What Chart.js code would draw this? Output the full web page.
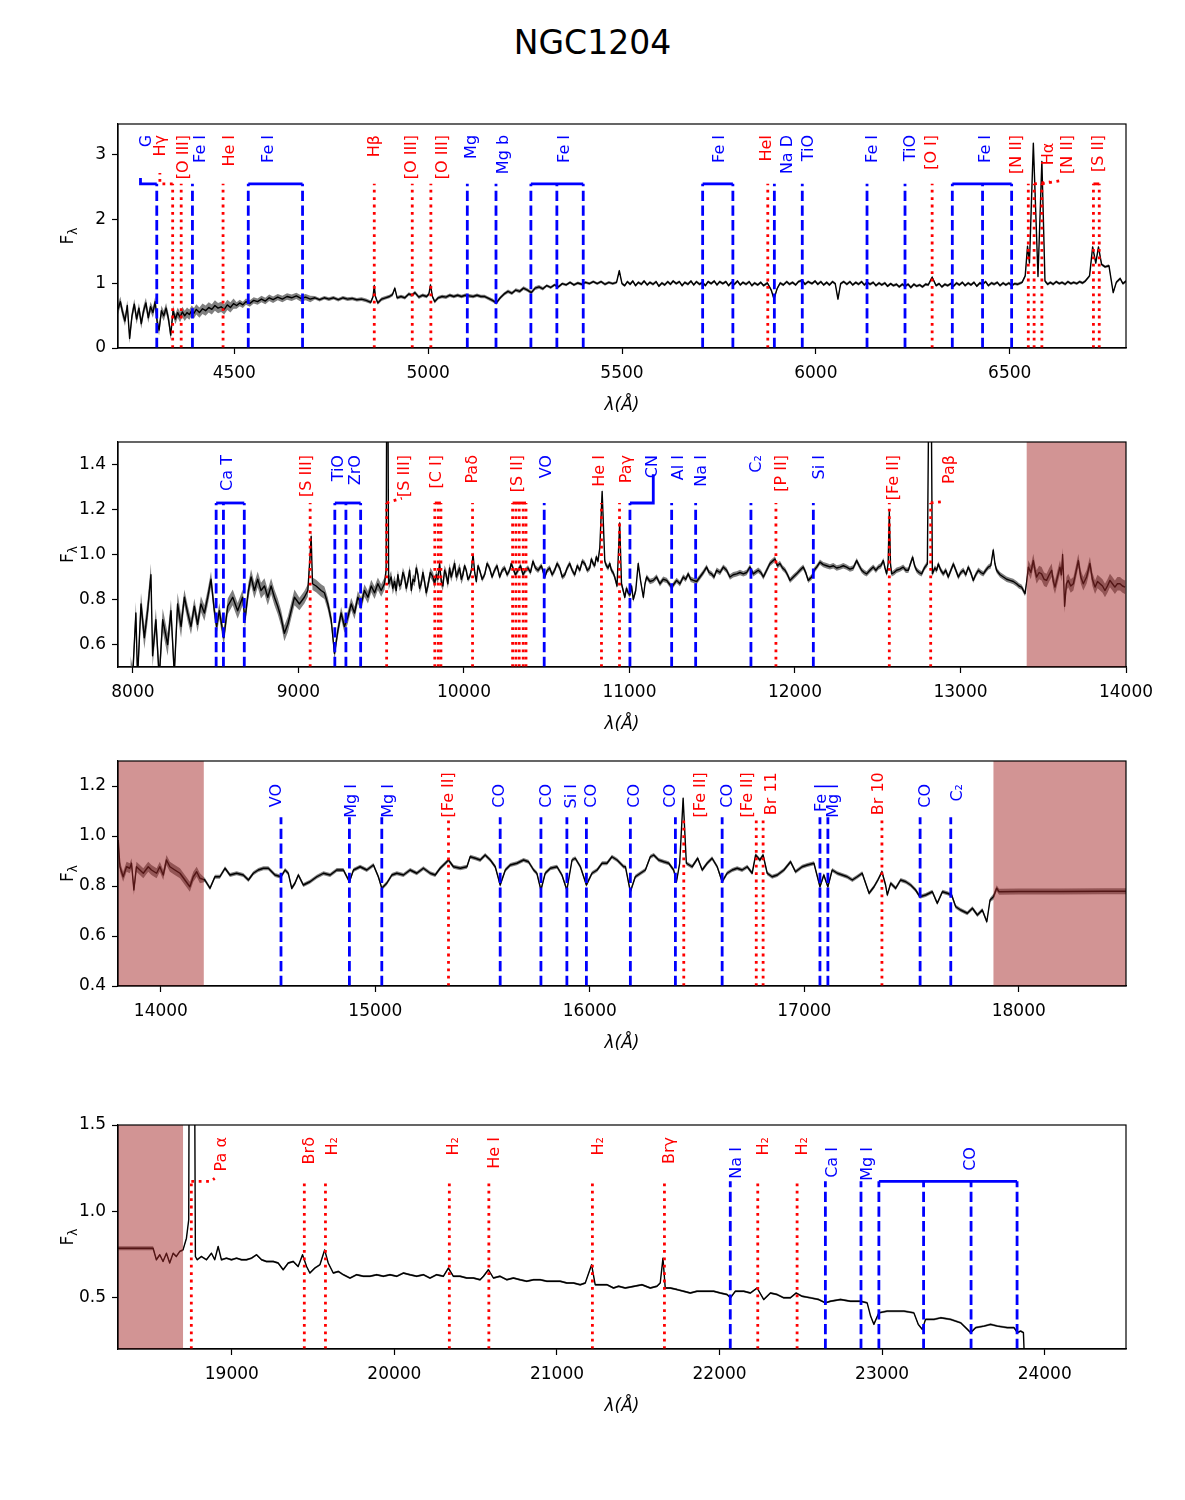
<!DOCTYPE html>
<html><head><meta charset="utf-8">
<script src="https://cdn.jsdelivr.net/npm/chart.js@4.4.1/dist/chart.umd.min.js"></script>
<style>
body{margin:0;background:#fff;width:1185px;height:1500px;position:relative;overflow:hidden;font-family:'DejaVu Sans',sans-serif;}
#title{position:absolute;left:0;width:1185px;top:24px;line-height:38px;text-align:center;font-size:33px;color:#000;}
canvas{position:absolute;left:0;}
</style></head><body>
<div id="title">NGC1204</div>
<canvas id="c1"></canvas><canvas id="c2"></canvas><canvas id="c3"></canvas><canvas id="c4"></canvas>
<script>
// ---------------- DATA ----------------
const p1XTicks=[4500,5000,5500,6000,6500];
const p1YTicks=[0,1,2,3];
const p2XTicks=[8000,9000,10000,11000,12000,13000,14000];
const p2YTicks=[0.6,0.8,1.0,1.2,1.4];
const p3XTicks=[14000,15000,16000,17000,18000];
const p3YTicks=[0.4,0.6,0.8,1.0,1.2];
const p4XTicks=[19000,20000,21000,22000,23000,24000];
const p4YTicks=[0.5,1.0,1.5];

// spectrum [wavelength (Å), flux]
const p1Spectrum=[[4200,0.60],[4206,0.72],[4212,0.55],[4218,0.42],[4224,0.66],[4230,0.15],[4236,0.50],[4242,0.68],[4248,0.45],[4254,0.62],[4260,0.38],[4266,0.58],[4272,0.70],[4278,0.47],[4284,0.64],[4290,0.55],[4296,0.72],[4301,0.40],[4306,0.28],[4312,0.58],[4318,0.50],[4324,0.62],[4330,0.46],[4336,0.20],[4342,0.58],[4348,0.45],[4354,0.55],[4360,0.48],[4366,0.56],[4372,0.50],[4378,0.55],[4384,0.52],[4390,0.58],[4396,0.54],[4402,0.60],[4410,0.55],[4418,0.61],[4426,0.58],[4434,0.63],[4442,0.60],[4450,0.66],[4458,0.62],[4466,0.64],[4474,0.60],[4482,0.67],[4490,0.63],[4498,0.69],[4506,0.66],[4514,0.70],[4522,0.67],[4530,0.72],[4540,0.69],[4550,0.74],[4560,0.72],[4570,0.76],[4580,0.73],[4590,0.78],[4600,0.75],[4612,0.79],[4624,0.76],[4636,0.80],[4648,0.78],[4660,0.81],[4672,0.77],[4684,0.79],[4696,0.76],[4708,0.78],[4720,0.75],[4732,0.78],[4744,0.76],[4756,0.78],[4768,0.75],[4780,0.78],[4792,0.76],[4804,0.77],[4816,0.75],[4828,0.76],[4840,0.74],[4852,0.71],[4858,0.80],[4861,0.97],[4864,0.80],[4870,0.70],[4880,0.76],[4890,0.78],[4900,0.80],[4908,0.83],[4914,0.93],[4920,0.78],[4930,0.80],[4940,0.78],[4950,0.84],[4958,0.82],[4966,0.86],[4976,0.79],[4986,0.82],[4996,0.80],[5002,0.84],[5006,0.98],[5011,0.80],[5017,0.72],[5026,0.78],[5036,0.80],[5046,0.79],[5056,0.82],[5066,0.80],[5076,0.82],[5086,0.80],[5096,0.82],[5106,0.81],[5116,0.80],[5126,0.82],[5136,0.80],[5146,0.80],[5156,0.77],[5166,0.74],[5176,0.70],[5186,0.78],[5196,0.84],[5206,0.88],[5216,0.85],[5226,0.90],[5236,0.88],[5246,0.93],[5256,0.90],[5266,0.86],[5276,0.93],[5286,0.95],[5296,0.92],[5306,0.97],[5316,0.94],[5326,0.98],[5336,0.95],[5346,1.00],[5356,0.98],[5366,1.02],[5376,0.98],[5386,1.01],[5396,0.99],[5406,1.02],[5416,1.00],[5426,1.03],[5436,1.00],[5446,1.03],[5456,0.99],[5466,1.02],[5476,1.00],[5486,1.02],[5493,1.20],[5500,1.00],[5507,0.97],[5514,1.03],[5521,0.99],[5528,1.04],[5535,0.97],[5542,1.02],[5550,0.99],[5557,1.04],[5565,0.98],[5572,1.02],[5580,0.99],[5588,1.03],[5595,0.96],[5603,1.01],[5610,0.98],[5618,1.03],[5625,0.99],[5632,1.04],[5640,1.00],[5648,1.03],[5655,0.97],[5662,1.02],[5670,0.99],[5678,1.04],[5685,0.98],[5692,1.03],[5700,0.99],[5708,1.02],[5715,0.97],[5722,1.03],[5730,1.00],[5738,1.04],[5745,0.98],[5752,1.03],[5760,1.00],[5768,1.03],[5775,0.97],[5782,1.02],[5790,0.99],[5798,1.04],[5805,0.98],[5812,1.02],[5820,0.99],[5828,1.03],[5835,0.97],[5842,1.01],[5850,0.98],[5858,1.02],[5865,0.97],[5875,1.01],[5885,0.90],[5892,0.76],[5900,0.92],[5908,1.01],[5916,0.98],[5925,1.03],[5932,0.99],[5940,1.02],[5948,0.98],[5955,1.03],[5965,1.05],[5972,0.99],[5980,1.03],[5990,1.00],[5998,1.04],[6005,0.99],[6013,1.03],[6020,0.98],[6028,1.02],[6035,0.98],[6043,1.03],[6050,1.00],[6057,0.76],[6064,1.00],[6072,1.03],[6080,0.99],[6088,1.03],[6095,0.98],[6103,1.02],[6110,0.99],[6118,1.03],[6125,0.98],[6132,1.02],[6140,0.99],[6148,1.02],[6155,0.97],[6163,1.01],[6170,0.98],[6178,1.01],[6185,0.96],[6193,1.00],[6200,0.97],[6208,0.99],[6215,0.95],[6223,0.99],[6230,0.96],[6238,0.99],[6245,0.94],[6253,0.99],[6260,0.96],[6268,0.98],[6275,0.95],[6283,0.99],[6290,0.98],[6300,1.10],[6310,0.97],[6318,1.00],[6325,0.95],[6333,0.99],[6340,0.97],[6348,1.00],[6355,0.96],[6363,1.01],[6370,0.98],[6378,1.02],[6385,0.97],[6393,1.01],[6400,0.98],[6408,1.02],[6415,0.96],[6423,1.01],[6430,0.99],[6438,1.03],[6445,0.97],[6453,1.01],[6460,0.99],[6468,1.02],[6475,0.97],[6483,1.01],[6490,0.98],[6498,1.01],[6505,0.97],[6513,1.00],[6520,0.99],[6532,1.02],[6540,1.12],[6546,1.58],[6551,1.32],[6561,3.18],[6573,1.11],[6583,2.90],[6591,1.04],[6598,0.99],[6605,1.02],[6612,0.99],[6620,1.03],[6628,1.00],[6635,1.02],[6643,0.99],[6650,1.03],[6658,1.00],[6665,1.02],[6673,1.00],[6680,1.03],[6688,1.01],[6695,1.04],[6706,1.12],[6714,1.57],[6722,1.32],[6729,1.57],[6737,1.30],[6746,1.26],[6756,1.28],[6762,1.05],[6767,0.86],[6775,1.02],[6785,1.08],[6792,1.00],[6800,1.04]];
const p1ErrSteps=[[4500,0.08],[4700,0.05],[5300,0.028],[7000,0.022]];

const p2Spectrum=[[7985,0.50],[7998,0.45],[8018,0.74],[8028,0.45],[8049,0.78],[8069,0.63],[8089,0.75],[8109,0.91],[8119,0.55],[8139,0.71],[8159,0.45],[8180,0.71],[8210,0.60],[8230,0.75],[8250,0.47],[8270,0.78],[8291,0.68],[8311,0.81],[8331,0.74],[8351,0.68],[8371,0.77],[8391,0.69],[8411,0.78],[8432,0.74],[8452,0.81],[8472,0.89],[8492,0.75],[8506,0.68],[8522,0.75],[8549,0.63],[8573,0.77],[8603,0.81],[8633,0.75],[8663,0.81],[8677,0.71],[8698,0.84],[8714,0.90],[8734,0.84],[8754,0.89],[8774,0.84],[8795,0.86],[8815,0.81],[8835,0.86],[8855,0.81],[8875,0.77],[8895,0.72],[8915,0.65],[8936,0.69],[8956,0.75],[8976,0.81],[9006,0.78],[9036,0.81],[9057,0.84],[9071,1.00],[9077,1.08],[9085,0.87],[9107,0.86],[9137,0.84],[9157,0.83],[9178,0.78],[9198,0.71],[9218,0.56],[9238,0.66],[9258,0.74],[9278,0.68],[9298,0.72],[9319,0.78],[9339,0.74],[9359,0.81],[9379,0.78],[9399,0.84],[9420,0.81],[9440,0.86],[9460,0.83],[9480,0.87],[9500,0.84],[9520,0.87],[9530,0.93],[9537,2.5],[9545,0.87],[9560,0.90],[9570,0.85],[9581,0.88],[9591,0.84],[9601,0.91],[9611,0.86],[9621,0.87],[9631,0.92],[9641,0.90],[9651,0.85],[9661,0.88],[9672,0.93],[9682,0.84],[9692,0.89],[9702,0.88],[9712,0.94],[9722,0.91],[9732,0.85],[9742,0.87],[9752,0.92],[9762,0.88],[9772,0.83],[9782,0.86],[9797,0.92],[9813,0.90],[9823,0.87],[9833,0.91],[9843,0.89],[9853,0.96],[9863,0.88],[9873,0.86],[9883,0.93],[9893,0.91],[9903,0.87],[9913,0.94],[9923,0.90],[9934,0.93],[9944,0.96],[9954,0.90],[9964,0.92],[9974,0.94],[9984,0.89],[9994,0.91],[10004,0.95],[10014,0.93],[10024,0.89],[10034,0.90],[10045,0.93],[10055,1.00],[10065,0.92],[10075,0.88],[10085,0.95],[10095,0.93],[10110,0.89],[10125,0.91],[10140,0.96],[10155,0.94],[10170,0.90],[10185,0.93],[10200,0.95],[10216,0.90],[10231,0.93],[10246,0.94],[10261,0.91],[10276,0.93],[10286,0.96],[10296,0.94],[10311,0.91],[10327,0.93],[10342,0.95],[10357,0.91],[10372,0.93],[10387,0.94],[10402,0.92],[10417,0.97],[10432,0.94],[10448,0.93],[10468,0.95],[10488,0.90],[10503,0.93],[10518,0.94],[10533,0.91],[10548,0.93],[10563,0.96],[10579,0.94],[10594,0.90],[10609,0.91],[10624,0.94],[10639,0.96],[10654,0.93],[10669,0.91],[10685,0.95],[10700,0.93],[10715,0.97],[10730,0.96],[10745,0.93],[10760,0.94],[10770,0.98],[10780,0.96],[10790,0.95],[10800,0.99],[10810,0.97],[10821,1.03],[10835,1.28],[10851,0.97],[10861,0.95],[10871,0.94],[10881,0.96],[10891,0.93],[10901,0.92],[10911,0.90],[10918,0.88],[10925,0.86],[10941,1.14],[10952,0.87],[10962,0.84],[10972,0.81],[10982,0.85],[10992,0.83],[11003,0.82],[11013,0.86],[11023,0.80],[11038,0.84],[11053,0.96],[11068,0.88],[11084,0.81],[11094,0.87],[11104,0.90],[11124,0.88],[11144,0.885],[11164,0.90],[11184,0.87],[11204,0.89],[11225,0.885],[11240,0.87],[11255,0.855],[11270,0.87],[11285,0.885],[11305,0.87],[11325,0.90],[11340,0.89],[11355,0.914],[11370,0.89],[11386,0.885],[11406,0.88],[11426,0.90],[11446,0.92],[11466,0.944],[11481,0.92],[11496,0.914],[11511,0.90],[11527,0.93],[11547,0.92],[11567,0.944],[11587,0.93],[11607,0.90],[11627,0.91],[11648,0.914],[11668,0.92],[11688,0.914],[11708,0.92],[11728,0.944],[11748,0.914],[11778,0.93],[11794,0.92],[11809,0.90],[11829,0.93],[11849,0.96],[11864,0.97],[11879,0.98],[11894,0.95],[11909,0.96],[11925,0.94],[11940,0.93],[11955,0.91],[11970,0.885],[11990,0.90],[12010,0.914],[12030,0.93],[12050,0.944],[12065,0.92],[12080,0.885],[12101,0.90],[12116,0.93],[12131,0.944],[12151,0.966],[12171,0.955],[12191,0.95],[12211,0.945],[12232,0.95],[12252,0.94],[12272,0.944],[12292,0.95],[12312,0.944],[12332,0.935],[12352,0.94],[12373,0.973],[12388,0.95],[12403,0.93],[12418,0.92],[12433,0.914],[12453,0.93],[12473,0.944],[12489,0.93],[12504,0.944],[12519,0.95],[12534,0.973],[12544,0.94],[12554,0.914],[12563,0.96],[12570,1.19],[12577,0.96],[12584,0.914],[12599,0.92],[12614,0.93],[12634,0.935],[12654,0.944],[12670,0.93],[12685,0.93],[12698,0.96],[12711,0.988],[12723,0.95],[12735,0.93],[12750,0.92],[12765,0.914],[12775,0.93],[12785,0.944],[12800,0.958],[12817,2.5],[12830,0.914],[12845,0.94],[12856,0.93],[12866,0.958],[12881,0.93],[12896,0.914],[12911,0.93],[12926,0.90],[12942,0.93],[12957,0.958],[12972,0.93],[12987,0.90],[13002,0.92],[13017,0.93],[13032,0.91],[13047,0.944],[13062,0.92],[13077,0.885],[13092,0.91],[13108,0.93],[13123,0.92],[13138,0.914],[13153,0.93],[13168,0.944],[13183,0.95],[13198,1.02],[13208,0.96],[13218,0.93],[13239,0.91],[13259,0.90],[13279,0.89],[13299,0.885],[13319,0.88],[13339,0.87],[13354,0.86],[13369,0.855],[13380,0.84],[13390,0.826],[13400,0.88],[13410,0.944],[13425,0.92],[13440,0.973],[13450,0.93],[13460,0.90],[13475,0.92],[13490,0.914],[13505,0.89],[13520,0.885],[13536,0.91],[13551,0.93],[13561,0.88],[13571,0.855],[13586,0.90],[13601,0.944],[13610,0.91],[13617,1.00],[13623,0.90],[13629,0.77],[13640,0.87],[13651,0.885],[13666,0.86],[13682,0.87],[13697,0.92],[13712,0.973],[13727,0.90],[13742,0.87],[13762,0.90],[13782,0.96],[13797,0.89],[13813,0.855],[13828,0.88],[13843,0.87],[13858,0.86],[13873,0.84],[13888,0.86],[13903,0.885],[13918,0.87],[13933,0.855],[13948,0.87],[13964,0.87],[13979,0.86],[13994,0.855]];
const p2ErrSteps=[[8300,0.05],[9000,0.035],[9600,0.028],[10000,0.022],[13400,0.012],[14100,0.03]];

const p3Spectrum=[[13801,0.984],[13809,0.877],[13824,0.837],[13840,0.877],[13855,0.871],[13863,0.891],[13874,0.784],[13886,0.877],[13902,0.864],[13918,0.851],[13941,0.877],[13956,0.864],[13980,0.851],[13995,0.877],[14011,0.844],[14026,0.904],[14042,0.877],[14065,0.864],[14089,0.851],[14112,0.824],[14135,0.797],[14151,0.837],[14167,0.857],[14182,0.831],[14205,0.824],[14229,0.791],[14252,0.837],[14275,0.837],[14299,0.871],[14322,0.844],[14353,0.851],[14384,0.844],[14408,0.824],[14431,0.851],[14454,0.864],[14478,0.871],[14501,0.871],[14532,0.844],[14560,0.837],[14579,0.864],[14594,0.851],[14610,0.791],[14625,0.811],[14641,0.844],[14664,0.804],[14695,0.817],[14727,0.837],[14758,0.851],[14789,0.844],[14820,0.864],[14851,0.864],[14879,0.817],[14898,0.864],[14929,0.877],[14960,0.864],[14991,0.884],[15014,0.837],[15030,0.791],[15053,0.811],[15077,0.844],[15100,0.851],[15131,0.844],[15162,0.864],[15193,0.851],[15224,0.871],[15256,0.851],[15279,0.844],[15302,0.871],[15326,0.891],[15341,0.904],[15364,0.877],[15396,0.871],[15427,0.877],[15442,0.917],[15466,0.911],[15489,0.904],[15512,0.924],[15536,0.904],[15559,0.877],[15582,0.804],[15606,0.864],[15629,0.884],[15660,0.891],[15691,0.904],[15714,0.897],[15738,0.864],[15753,0.851],[15772,0.784],[15792,0.851],[15816,0.871],[15847,0.877],[15870,0.844],[15893,0.784],[15917,0.904],[15932,0.911],[15956,0.877],[15984,0.804],[16010,0.851],[16034,0.864],[16057,0.891],[16080,0.891],[16103,0.917],[16127,0.904],[16158,0.877],[16166,0.877],[16189,0.777],[16212,0.837],[16236,0.851],[16259,0.864],[16282,0.917],[16298,0.924],[16321,0.904],[16345,0.897],[16368,0.891],[16391,0.864],[16404,0.817],[16419,0.891],[16435,1.151],[16450,0.891],[16477,0.877],[16503,0.911],[16524,0.864],[16547,0.891],[16570,0.911],[16594,0.877],[16617,0.817],[16640,0.851],[16664,0.864],[16687,0.871],[16710,0.864],[16734,0.877],[16757,0.851],[16773,0.924],[16793,0.904],[16808,0.924],[16827,0.851],[16850,0.837],[16874,0.844],[16905,0.864],[16936,0.897],[16959,0.857],[16990,0.877],[17014,0.884],[17045,0.891],[17073,0.797],[17091,0.844],[17110,0.797],[17130,0.864],[17154,0.851],[17177,0.844],[17200,0.837],[17224,0.824],[17247,0.837],[17270,0.851],[17302,0.771],[17325,0.797],[17343,0.824],[17362,0.857],[17379,0.804],[17387,0.764],[17403,0.811],[17426,0.791],[17449,0.824],[17473,0.817],[17496,0.804],[17519,0.784],[17539,0.757],[17566,0.764],[17597,0.777],[17620,0.731],[17644,0.777],[17667,0.771],[17687,0.764],[17706,0.717],[17729,0.704],[17760,0.691],[17784,0.711],[17807,0.684],[17830,0.704],[17851,0.657],[17866,0.744],[17882,0.757],[17897,0.791],[17908,0.777],[18000,0.778],[18200,0.778],[18400,0.779],[18500,0.779]];
const p3ErrSteps=[[14200,0.02],[17880,0.008],[18600,0.012]];

const p4Spectrum=[[18300,0.785],[18516,0.785],[18536,0.718],[18557,0.747],[18577,0.708],[18598,0.756],[18618,0.699],[18639,0.756],[18659,0.737],[18680,0.766],[18700,0.775],[18721,0.843],[18735,0.95],[18741,3.0],[18766,3.0],[18776,0.737],[18787,0.718],[18813,0.737],[18844,0.718],[18875,0.756],[18895,0.718],[18916,0.795],[18936,0.718],[18967,0.727],[18998,0.718],[19029,0.727],[19060,0.718],[19090,0.718],[19121,0.727],[19152,0.747],[19183,0.718],[19213,0.708],[19255,0.708],[19285,0.699],[19316,0.66],[19347,0.699],[19378,0.708],[19408,0.679],[19435,0.747],[19460,0.679],[19480,0.641],[19511,0.67],[19542,0.689],[19571,0.775],[19593,0.699],[19624,0.641],[19655,0.65],[19686,0.631],[19727,0.612],[19768,0.631],[19809,0.622],[19850,0.622],[19891,0.631],[19932,0.622],[19973,0.631],[20014,0.622],[20055,0.641],[20096,0.631],[20137,0.622],[20178,0.631],[20219,0.612],[20260,0.631],[20301,0.622],[20332,0.67],[20363,0.622],[20404,0.622],[20445,0.612],[20486,0.612],[20527,0.602],[20548,0.622],[20578,0.66],[20609,0.612],[20650,0.622],[20691,0.602],[20732,0.612],[20773,0.602],[20814,0.593],[20856,0.602],[20897,0.602],[20938,0.593],[20979,0.593],[21020,0.593],[21061,0.583],[21102,0.583],[21143,0.573],[21174,0.583],[21213,0.689],[21235,0.573],[21266,0.573],[21307,0.573],[21348,0.554],[21379,0.564],[21420,0.554],[21523,0.573],[21574,0.554],[21615,0.564],[21635,0.583],[21652,0.727],[21666,0.554],[21697,0.554],[21738,0.545],[21779,0.535],[21820,0.525],[21861,0.535],[21923,0.535],[21964,0.535],[22005,0.525],[22046,0.516],[22067,0.497],[22097,0.535],[22149,0.535],[22190,0.525],[22231,0.554],[22272,0.487],[22313,0.525],[22354,0.516],[22395,0.497],[22436,0.497],[22471,0.525],[22508,0.506],[22559,0.497],[22610,0.487],[22651,0.468],[22682,0.477],[22744,0.487],[22805,0.477],[22867,0.477],[22908,0.468],[22929,0.391],[22949,0.343],[22980,0.41],[23031,0.42],[23072,0.42],[23134,0.42],[23195,0.41],[23222,0.343],[23247,0.314],[23267,0.372],[23319,0.372],[23360,0.381],[23421,0.372],[23483,0.352],[23524,0.314],[23544,0.295],[23575,0.324],[23627,0.333],[23667,0.343],[23709,0.333],[23770,0.324],[23811,0.324],[23832,0.295],[23852,0.304],[23869,0.295],[23877,0.10]];
const p4ErrSteps=[[18520,0.012],[24000,0.006]];

// masked wavelength intervals
const p2Shades=[[13400,14000]];
const p3Shades=[[13800,14200],[17882,18500]];
const p4Shades=[[18300,18700]];

// spectral features: name, kind (em = emission / ab = absorption), line wavelengths, label wavelength
const p1Features=[
 {name:'G',kind:'ab',lines:[4300],at:4275,hook:[[4300,2.55],[4258,2.55],[4258,2.64]]},
 {name:'Hγ',kind:'em',lines:[4341],at:4310,hook:[[4341,2.55],[4308,2.55],[4308,2.72]]},
 {name:'[O III]',kind:'em',lines:[4363],at:4370},
 {name:'Fe I',kind:'ab',lines:[4392],at:4413},
 {name:'He I',kind:'em',lines:[4471],at:4489},
 {name:'Fe I',kind:'ab',lines:[4536,4676],at:4588},
 {name:'Hβ',kind:'em',lines:[4861],at:4862},
 {name:'[O III]',kind:'em',lines:[4959],at:4958},
 {name:'[O III]',kind:'em',lines:[5007],at:5039},
 {name:'Mg',kind:'ab',lines:[5101],at:5112},
 {name:'Mg b',kind:'ab',lines:[5175],at:5194},
 {name:'Fe I',kind:'ab',lines:[5265,5332,5400],at:5353},
 {name:'Fe I',kind:'ab',lines:[5708,5786],at:5753},
 {name:'HeI',kind:'em',lines:[5876],at:5873},
 {name:'Na D',kind:'ab',lines:[5893],at:5929},
 {name:'TiO',kind:'ab',lines:[5965],at:5981},
 {name:'Fe I',kind:'ab',lines:[6132],at:6148},
 {name:'TiO',kind:'ab',lines:[6230],at:6245},
 {name:'[O I]',kind:'em',lines:[6300],at:6299},
 {name:'Fe I',kind:'ab',lines:[6352,6430,6505],at:6438},
 {name:'[N II]',kind:'em',lines:[6548],at:6518},
 {name:'Hα',kind:'em',lines:[6563],at:6600,top:3.19,hook:[[6563,2.55],[6604,2.58]]},
 {name:'[N II]',kind:'em',lines:[6583],at:6651,hook:[[6583,2.55],[6630,2.6]]},
 {name:'[S II]',kind:'em',lines:[6716,6731],at:6729}
];
const p2Features=[
 {name:'Ca T',kind:'ab',lines:[8503,8547,8673],at:8576},
 {name:'[S III]',kind:'em',lines:[9071],at:9049},
 {name:'TiO\nZrO',kind:'ab',lines:[9220,9287,9376],at:9298},
 {name:'[S III]',kind:'em',lines:[9533],at:9643,hook:[[9533,1.229],[9560,1.236],[9625,1.25]]},
 {name:'[C I]',kind:'em',lines:[9824,9845,9861],at:9835},
 {name:'Paδ',kind:'em',lines:[10052],at:10056},
 {name:'[S II]',kind:'em',lines:[10294,10314,10334,10358,10375],at:10328},
 {name:'VO',kind:'ab',lines:[10485],at:10500},
 {name:'He I',kind:'em',lines:[10831],at:10822},
 {name:'Paγ',kind:'em',lines:[10940],at:10986},
 {name:'CN',kind:'ab',lines:[11003],at:11144,hook:[[11003,1.229],[11144,1.229],[11144,1.357]]},
 {name:'Al I',kind:'ab',lines:[11255],at:11301},
 {name:'Na I',kind:'ab',lines:[11400],at:11436},
 {name:'C₂',kind:'ab',lines:[11734],at:11772},
 {name:'[P II]',kind:'em',lines:[11885],at:11919},
 {name:'Si I',kind:'ab',lines:[12111],at:12151},
 {name:'[Fe II]',kind:'em',lines:[12570],at:12598},
 {name:'Paβ',kind:'em',lines:[12820],at:12936,hook:[[12820,1.229],[12905,1.236]]}
];
const p3Features=[
 {name:'VO',kind:'ab',lines:[14560],at:14540},
 {name:'Mg I',kind:'ab',lines:[14879],at:14890},
 {name:'Mg I',kind:'ab',lines:[15030],at:15061},
 {name:'[Fe II]',kind:'em',lines:[15341],at:15341},
 {name:'CO',kind:'ab',lines:[15582],at:15582},
 {name:'CO',kind:'ab',lines:[15772],at:15800},
 {name:'Si I',kind:'ab',lines:[15893],at:15917},
 {name:'CO',kind:'ab',lines:[15984],at:16010},
 {name:'CO',kind:'ab',lines:[16189],at:16208},
 {name:'CO',kind:'ab',lines:[16399],at:16376},
 {name:'[Fe II]',kind:'em',lines:[16438],at:16516},
 {name:'CO',kind:'ab',lines:[16617],at:16643},
 {name:'[Fe II]',kind:'em',lines:[16776],at:16737},
 {name:'Br 11',kind:'em',lines:[16808],at:16850},
 {name:'Fe I',kind:'ab',lines:[17073],at:17084},
 {name:'Mg I',kind:'ab',lines:[17110],at:17138},
 {name:'Br 10',kind:'em',lines:[17362],at:17348},
 {name:'CO',kind:'ab',lines:[17540],at:17566},
 {name:'C₂',kind:'ab',lines:[17683],at:17714}
];
const p4Features=[
 {name:'Pa α',kind:'em',lines:[18751],at:18936,hook:[[18751,1.173],[18870,1.173],[18895,1.19]]},
 {name:'Brδ',kind:'em',lines:[19446],at:19480},
 {name:'H₂',kind:'em',lines:[19576],at:19620},
 {name:'H₂',kind:'em',lines:[20338],at:20363},
 {name:'He I',kind:'em',lines:[20581],at:20619},
 {name:'H₂',kind:'em',lines:[21218],at:21256},
 {name:'Brγ',kind:'em',lines:[21661],at:21693},
 {name:'Na I',kind:'ab',lines:[22066],at:22108},
 {name:'H₂',kind:'em',lines:[22235],at:22272},
 {name:'H₂',kind:'em',lines:[22477],at:22514},
 {name:'Ca I',kind:'ab',lines:[22651],at:22699},
 {name:'Mg I',kind:'ab',lines:[22870],at:22912},
 {name:'CO',kind:'ab',lines:[22980,23255,23547,23830],at:23544}
];

// ---------------- DRAWING ----------------
const FONT='"DejaVu Sans"';
const RED='rgb(255,0,0)', BLUE='rgb(0,0,255)';
const DASH=[10.3,4.4], DOT=[2.8,4.6];
const LW=2.8;

function makePanel(cfg){
  const padTop=10, bottomH=80, W=1185;
  const H=padTop+cfg.plotH+bottomH;
  const canvas=document.getElementById(cfg.id);
  canvas.width=W; canvas.height=H;
  canvas.style.width=W+'px'; canvas.style.height=H+'px';
  canvas.style.top=(cfg.plotTop-padTop)+'px';
  const datasets=[];
  const base={type:'line',pointRadius:0,pointHoverRadius:0,fill:false,tension:0,clip:0,spanGaps:true};
  cfg.features.forEach(f=>{
    const col=f.kind==='em'?RED:BLUE, dash=f.kind==='em'?DOT:DASH;
    f.lines.forEach(w=>{
      datasets.push(Object.assign({},base,{data:[{x:w,y:cfg.yMin},{x:w,y:cfg.lineTop}],borderColor:col,borderWidth:LW,borderDash:dash,borderCapStyle:'butt'}));
    });
    if(f.lines.length>1){
      datasets.push(Object.assign({},base,{data:[{x:Math.min(...f.lines),y:cfg.lineTop},{x:Math.max(...f.lines),y:cfg.lineTop}],borderColor:col,borderWidth:LW}));
    }
    if(f.hook){
      datasets.push(Object.assign({},base,{data:f.hook.map(p=>({x:p[0],y:p[1]})),borderColor:col,borderWidth:LW,borderDash:f.kind==='em'?DOT:[]}));
    }
  });
  const errFor=w=>{for(const s of cfg.errSteps){if(w<=s[0])return s[1];}return cfg.errSteps[cfg.errSteps.length-1][1];};
  datasets.push(Object.assign({},base,{data:cfg.spectrum.map(p=>({x:p[0],y:p[1]})),borderColor:'#000',borderWidth:1.4,borderJoinStyle:'round'}));
  datasets.push(Object.assign({},base,{data:cfg.spectrum.map(p=>({x:p[0],y:p[1]+errFor(p[0])})),borderColor:'rgba(0,0,0,0)',borderWidth:0.01}));
  datasets.push(Object.assign({},base,{data:cfg.spectrum.map(p=>({x:p[0],y:p[1]-errFor(p[0])})),borderColor:'rgba(0,0,0,0)',borderWidth:0.01,fill:'-1',backgroundColor:'rgb(128,128,128)'}));

  const deco={
    id:'deco'+cfg.id,
    afterDatasetsDraw(chart){
      const ctx=chart.ctx, xs=chart.scales.x, ys=chart.scales.y, a=chart.chartArea;
      ctx.save();
      ctx.fillStyle='rgba(165,42,42,0.5)';
      (cfg.shades||[]).forEach(s=>{
        const x0=Math.max(a.left,xs.getPixelForValue(s[0])), x1=Math.min(a.right,xs.getPixelForValue(s[1]));
        ctx.fillRect(x0,a.top,x1-x0,a.bottom-a.top);
      });
      ctx.font='16px '+FONT;
      ctx.textAlign='right'; ctx.textBaseline='middle';
      cfg.features.forEach(f=>{
        const top=f.top!==undefined?f.top:(f.kind==='em'?cfg.labelTopEm:cfg.labelTopAb);
        const x=xs.getPixelForValue(f.at), y=ys.getPixelForValue(top);
        ctx.save();
        ctx.fillStyle=f.kind==='em'?RED:BLUE;
        ctx.translate(x,y); ctx.rotate(-Math.PI/2);
        const parts=f.name.split('\n');
        parts.forEach((t,i)=>ctx.fillText(t,0,(i-(parts.length-1)/2)*17));
        ctx.restore();
      });
      ctx.restore();
    },
    afterDraw(chart){
      const ctx=chart.ctx, a=chart.chartArea;
      ctx.save();
      ctx.strokeStyle='#000'; ctx.lineWidth=1.2;
      ctx.strokeRect(a.left,a.top,a.right-a.left,a.bottom-a.top);
      ctx.fillStyle='#000';
      ctx.font='italic 17px '+FONT;
      ctx.textAlign='center'; ctx.textBaseline='middle';
      ctx.fillText('λ(Å)',(a.left+a.right)/2,a.bottom+58);
      ctx.translate(67,(a.top+a.bottom)/2);
      ctx.rotate(-Math.PI/2);
      ctx.font='17px '+FONT;
      const wF=ctx.measureText('F').width;
      ctx.font='12px '+FONT;
      const wL=ctx.measureText('λ').width;
      ctx.textAlign='left'; ctx.textBaseline='alphabetic';
      ctx.font='17px '+FONT;
      ctx.fillText('F',-(wF+wL)/2,6);
      ctx.font='12px '+FONT;
      ctx.fillText('λ',-(wF+wL)/2+wF,10);
      ctx.restore();
    }
  };

  new Chart(canvas.getContext('2d'),{
    type:'line',
    data:{datasets},
    options:{
      responsive:false,animation:false,events:[],
      layout:{padding:{top:padTop,right:W-1126,left:0,bottom:0}},
      plugins:{legend:{display:false},tooltip:{enabled:false},title:{display:false}},
      scales:{
        x:{type:'linear',min:cfg.xMin,max:cfg.xMax,
          afterBuildTicks:s=>{s.ticks=cfg.xTicks.map(v=>({value:v}));},
          afterFit:s=>{s.height=bottomH;s.paddingLeft=0;s.paddingRight=0;s.paddingTop=0;s.paddingBottom=0;},
          ticks:{font:{family:FONT,size:17},color:'#000',maxRotation:0,minRotation:0,autoSkip:false,padding:9,callback:v=>String(v)},
          grid:{drawOnChartArea:false,drawTicks:true,tickLength:6,tickColor:'#000',tickWidth:1.2,color:'#000'},
          border:{display:true,color:'#000',width:1.2}},
        y:{type:'linear',min:cfg.yMin,max:cfg.yMax,
          afterBuildTicks:s=>{s.ticks=cfg.yTicks.map(v=>({value:v}));},
          afterFit:s=>{s.width=118;s.paddingTop=0;s.paddingBottom=0;s.paddingLeft=0;s.paddingRight=0;},
          ticks:{font:{family:FONT,size:17},color:'#000',autoSkip:false,padding:6,callback:v=>Number(v).toFixed(cfg.yDec)},
          grid:{drawOnChartArea:false,drawTicks:true,tickLength:6,tickColor:'#000',tickWidth:1.2,color:'#000'},
          border:{display:true,color:'#000',width:1.2}}
      }
    },
    plugins:[deco]
  });
}

makePanel({id:'c1',plotTop:124,plotH:224,xMin:4200,xMax:6800,yMin:0,yMax:3.48,xTicks:p1XTicks,yTicks:p1YTicks,yDec:0,
  spectrum:p1Spectrum,errSteps:p1ErrSteps,features:p1Features,shades:[],lineTop:2.55,labelTopEm:3.31,labelTopAb:3.31});
makePanel({id:'c2',plotTop:442,plotH:225,xMin:7910,xMax:14000,yMin:0.5,yMax:1.5,xTicks:p2XTicks,yTicks:p2YTicks,yDec:1,
  spectrum:p2Spectrum,errSteps:p2ErrSteps,features:p2Features,shades:p2Shades,lineTop:1.229,labelTopEm:1.442,labelTopAb:1.442});
makePanel({id:'c3',plotTop:761,plotH:225,xMin:13800,xMax:18500,yMin:0.4,yMax:1.3,xTicks:p3XTicks,yTicks:p3YTicks,yDec:1,
  spectrum:p3Spectrum,errSteps:p3ErrSteps,features:p3Features,shades:p3Shades,lineTop:1.075,labelTopEm:1.255,labelTopAb:1.208});
makePanel({id:'c4',plotTop:1125,plotH:224,xMin:18300,xMax:24500,yMin:0.2,yMax:1.5,xTicks:p4XTicks,yTicks:p4YTicks,yDec:1,
  spectrum:p4Spectrum,errSteps:p4ErrSteps,features:p4Features,shades:p4Shades,lineTop:1.173,labelTopEm:1.43,labelTopAb:1.372});
</script>
</body></html>
